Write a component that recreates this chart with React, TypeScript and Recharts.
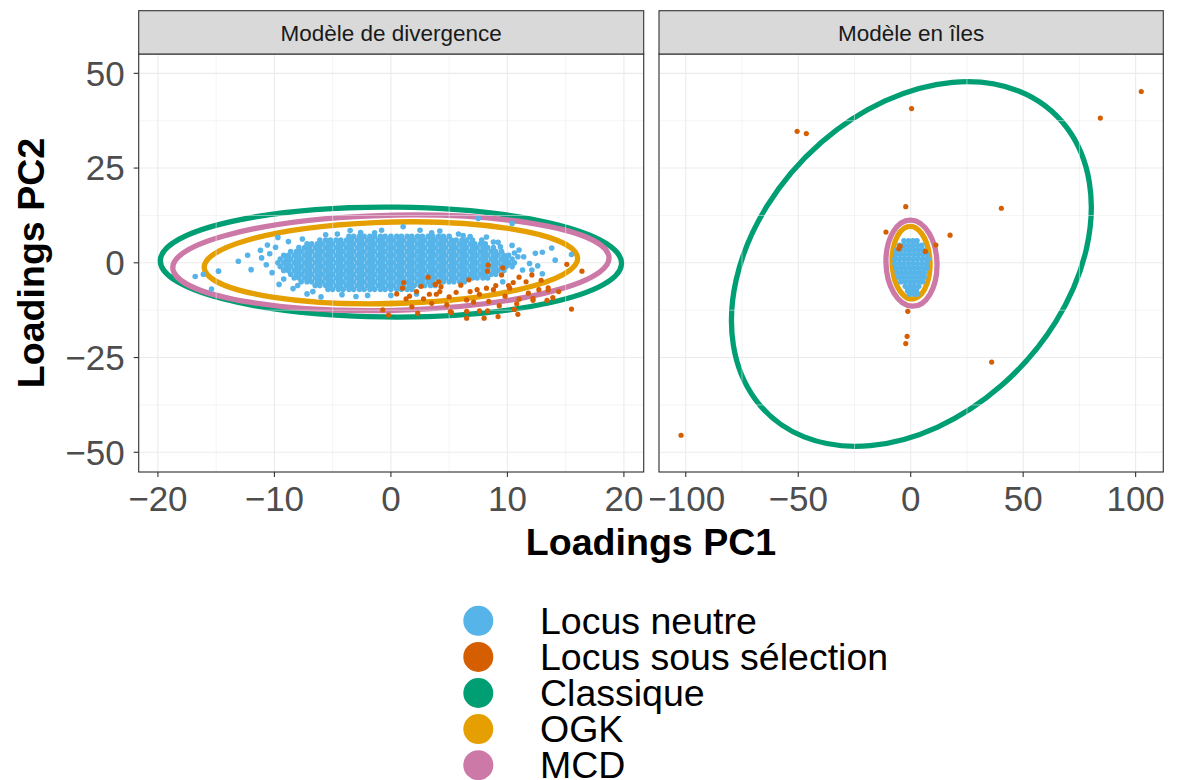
import React from "react";
import {
  ScatterChart,
  Scatter,
  XAxis,
  YAxis,
  CartesianGrid,
  ReferenceLine,
  ReferenceArea,
} from "recharts";

const FONT = '"Liberation Sans", Arial, Helvetica, sans-serif';

// facettes
const panelTitles = ["Modèle de divergence", "Modèle en îles"];

// axes
const yTicks = [-50, -25, 0, 25, 50];
const yMinor = [-37.5, -12.5, 12.5, 37.5];
const yDomain: [number, number] = [-55.2, 55.1];
const divTicks = [-20, -10, 0, 10, 20];
const divMinor = [-15, -5, 5, 15];
const divDomain: [number, number] = [-21.65, 21.7];
const ilesTicks = [-100, -50, 0, 50, 100];
const ilesMinor = [-75, -25, 25, 75];
const ilesDomain: [number, number] = [-111.9, 112.3];

const legendLabels = ["Locus neutre", "Locus sous sélection", "Classique", "OGK", "MCD"];
const COLORS: Record<string, string> = {
  "Locus neutre": "#56B4E9",
  "Locus sous sélection": "#D55E00",
  Classique: "#009E73",
  OGK: "#E69F00",
  MCD: "#CC79A7",
};

// Modèle de divergence : loci neutres, noyau dense (y, liste des x)
const neutreDivRows: [number, number[]][] = [
  [7, [-3.6, -3.2, -2.7, -2.3, -1.8, -1.4, -0.9, -0.5, 0, 0.5, 0.9, 1.4, 1.8, 2.3, 2.7, 3.2, 3.6, 4.1, 4.5, 5.0]],
  [6, [-6.1, -5.6, -5.2, -4.7, -4.3, -3.8, -3.4, -2.9, -2.5, -2.0, -1.6, -1.1, -0.7, -0.2, 0.2, 0.7, 1.1, 1.6, 2.0, 2.5, 2.9, 3.4, 3.8, 4.3, 4.7, 5.2, 5.6, 6.1, 6.5, 7.0]],
  [5, [-7.2, -6.8, -6.3, -5.9, -5.4, -5.0, -4.5, -4.1, -3.6, -3.2, -2.7, -2.3, -1.8, -1.4, -0.9, -0.5, 0, 0.5, 0.9, 1.4, 1.8, 2.3, 2.7, 3.2, 3.6, 4.1, 4.5, 5.0, 5.4, 5.9, 6.3, 6.8, 7.2, 7.7, 8.1]],
  [4, [-7.9, -7.4, -7.0, -6.5, -6.1, -5.6, -5.2, -4.7, -4.3, -3.8, -3.4, -2.9, -2.5, -2.0, -1.6, -1.1, -0.7, -0.2, 0.2, 0.7, 1.1, 1.6, 2.0, 2.5, 2.9, 3.4, 3.8, 4.3, 4.7, 5.2, 5.6, 6.1, 6.5, 7.0, 7.4, 7.9, 8.3, 8.8]],
  [3, [-8.6, -8.1, -7.7, -7.2, -6.8, -6.3, -5.9, -5.4, -5.0, -4.5, -4.1, -3.6, -3.2, -2.7, -2.3, -1.8, -1.4, -0.9, -0.5, 0, 0.5, 0.9, 1.4, 1.8, 2.3, 2.7, 3.2, 3.6, 4.1, 4.5, 5.0, 5.4, 5.9, 6.3, 6.8, 7.2, 7.7, 8.1, 8.6, 9.0, 9.5]],
  [2, [-9.2, -8.8, -8.3, -7.9, -7.4, -7.0, -6.5, -6.1, -5.6, -5.2, -4.7, -4.3, -3.8, -3.4, -2.9, -2.5, -2.0, -1.6, -1.1, -0.7, -0.2, 0.2, 0.7, 1.1, 1.6, 2.0, 2.5, 2.9, 3.4, 3.8, 4.3, 4.7, 5.2, 5.6, 6.1, 6.5, 7.0, 7.4, 7.9, 8.3, 8.8, 9.2, 9.7, 10.1]],
  [1, [-9.5, -9.0, -8.6, -8.1, -7.7, -7.2, -6.8, -6.3, -5.9, -5.4, -5.0, -4.5, -4.1, -3.6, -3.2, -2.7, -2.3, -1.8, -1.4, -0.9, -0.5, 0, 0.5, 0.9, 1.4, 1.8, 2.3, 2.7, 3.2, 3.6, 4.1, 4.5, 5.0, 5.4, 5.9, 6.3, 6.8, 7.2, 7.7, 8.1, 8.6, 9.0, 9.5, 9.9, 10.4]],
  [0, [-9.7, -9.2, -8.8, -8.3, -7.9, -7.4, -7.0, -6.5, -6.1, -5.6, -5.2, -4.7, -4.3, -3.8, -3.4, -2.9, -2.5, -2.0, -1.6, -1.1, -0.7, -0.2, 0.2, 0.7, 1.1, 1.6, 2.0, 2.5, 2.9, 3.4, 3.8, 4.3, 4.7, 5.2, 5.6, 6.1, 6.5, 7.0, 7.4, 7.9, 8.3, 8.8, 9.2, 9.7, 10.1, 10.6]],
  [-1, [-9.5, -9.0, -8.6, -8.1, -7.7, -7.2, -6.8, -6.3, -5.9, -5.4, -5.0, -4.5, -4.1, -3.6, -3.2, -2.7, -2.3, -1.8, -1.4, -0.9, -0.5, 0, 0.5, 0.9, 1.4, 1.8, 2.3, 2.7, 3.2, 3.6, 4.1, 4.5, 5.0, 5.4, 5.9, 6.3, 6.8, 7.2, 7.7, 8.1, 8.6, 9.0, 9.5, 9.9, 10.4]],
  [-2, [-9.2, -8.8, -8.3, -7.9, -7.4, -7.0, -6.5, -6.1, -5.6, -5.2, -4.7, -4.3, -3.8, -3.4, -2.9, -2.5, -2.0, -1.6, -1.1, -0.7, -0.2, 0.2, 0.7, 1.1, 1.6, 2.0, 2.5, 2.9, 3.4, 3.8, 4.3, 4.7, 5.2, 5.6, 6.1, 6.5, 7.0, 7.4, 7.9, 8.3, 8.8, 9.2, 9.7]],
  [-3, [-8.6, -8.1, -7.7, -7.2, -6.8, -6.3, -5.9, -5.4, -5.0, -4.5, -4.1, -3.6, -3.2, -2.7, -2.3, -1.8, -1.4, -0.9, -0.5, 0, 0.5, 0.9, 1.4, 1.8, 2.3, 2.7, 3.2, 3.6, 4.1, 4.5, 5.0, 5.4, 5.9, 6.3, 6.8, 7.2, 7.7, 8.1, 8.6, 9.0]],
  [-4, [-8.3, -7.9, -7.4, -7.0, -6.5, -6.1, -5.6, -5.2, -4.7, -4.3, -3.8, -3.4, -2.9, -2.5, -2.0, -1.6, -1.1, -0.7, -0.2, 0.2, 0.7, 1.1, 1.6, 2.0, 2.5, 2.9, 3.4, 3.8, 4.3, 4.7, 5.2, 5.6, 6.1, 6.5, 7.0, 7.4, 7.9, 8.3]],
  [-5, [-7.7, -7.2, -6.8, -6.3, -5.9, -5.4, -5.0, -4.5, -4.1, -3.6, -3.2, -2.7, -2.3, -1.8, -1.4, -0.9, -0.5, 0, 0.5, 0.9, 1.4, 1.8, 2.3, 2.7, 3.2, 3.6, 4.1, 4.5, 5.0, 5.4, 5.9, 6.3]],
  [-6, [-6.5, -6.1, -5.6, -5.2, -4.7, -4.3, -3.8, -3.4, -2.9, -2.5, -2.0, -1.6, -1.1, -0.7, -0.2, 0.2, 0.7, 1.1, 1.6, 2.0, 2.5, 2.9, 3.4, 3.8]],
  [-7, [-5.4, -5.0, -4.5, -4.1, -3.6, -3.2, -2.7, -2.3, -1.8, -1.4, -0.9, -0.5, 0, 0.5, 0.9, 1.4, 1.8]],
];

// Modèle de divergence : loci neutres épars
const neutreDivEpars: number[][] = [
  [-16.8, -3.6], [-16.1, -3.0], [-15.4, -6.9], [-14.8, -2.2], [-13.1, 0.4], [-11.2, 3.3],
  [-10.6, 4.7], [-11.1, 1.3], [-10.7, -0.5], [-9.7, 6.7], [-9.6, -5.7], [-8.4, -6.8],
  [-6.0, -9.0], [-3.5, 8.5], [-1.4, 7.9], [-10.2, -2.6], [-10.4, 2.4], [-9.2, -4.3],
  [-8.8, 5.6], [-7.6, 6.3], [-6.7, -7.6], [-5.6, 7.4], [-4.2, -8.4], [-2.0, -8.6],
  [1.05, 9.5], [2.5, 8.6], [4.2, 8.4], [5.8, 7.6], [6.8, 6.9], [7.8, 6.0], [8.2, 6.8],
  [8.8, 5.5], [9.4, 4.2], [9.2, 5.4], [10.4, 4.6], [11.0, 3.4], [10.9, 1.6], [11.4, 1.6],
  [12.4, 2.5], [11.9, -0.2], [12.1, -1.9], [10.4, -0.6], [13.0, 2.8], [13.8, 3.9],
  [12.6, -0.8], [11.3, -1.9], [13.0, -2.9], [9.6, -5.0], [10.4, 10.4], [7.5, 11.7],
  [15.5, 2.2], [14.1, 0.7], [-12.0, -1.8], [-12.3, 2.0], [-7.2, -8.2], [0.0, -8.6],
  [-0.8, 8.6], [-2.6, 8.0], [3.5, 7.9], [-3.0, -8.9], [-4.6, 7.6], [6.2, 7.2],
  [-8.0, -6.0], [2.2, -8.2], [10.6, 2.6], [-9.9, 4.1],
];

// Modèle de divergence : loci sous sélection
const selectionDiv: number[][] = [
  [8.35, -0.6], [8.3, -2.2], [9.6, -1.3], [9.5, -3.2], [12.1, -3.2], [15.1, -0.4], [16.4, -2.2],
  [15.5, -12.2], [11.0, -3.8], [11.6, -5.0], [12.9, -4.6], [13.5, -6.6], [12.7, -7.1],
  [13.9, -9.2], [13.4, -9.9], [12.2, -9.9], [10.6, -12.3], [10.9, -13.6], [9.2, -14.2],
  [8.3, -12.7], [6.5, -12.8], [5.2, -13.1], [3.2, -3.8], [4.1, -5.0], [4.3, -6.3], [3.8, -5.7],
  [3.9, -8.3], [4.2, -7.6], [3.3, -8.3], [2.8, -9.5], [2.2, -7.6], [1.3, -9.5], [1.0, -6.7],
  [1.1, -5.2], [5.6, -7.8], [6.0, -5.9], [6.8, -7.6], [7.4, -7.1], [7.6, -8.3], [8.2, -6.7],
  [8.8, -7.1], [9.0, -6.0], [10.1, -6.0], [10.2, -6.7], [10.5, -5.2], [6.5, -9.8], [4.8, -11.1],
  [5.1, -12.9], [2.3, -13.3], [8.4, -10.2], [12.2, -9.4], [11.8, -8.0], [7.6, -12.7],
  [6.5, -14.6], [9.3, -11.3], [-0.7, -12.4], [-0.2, -13.8], [3.5, -10.7], [5.0, -9.0],
  [7.1, -10.4], [9.8, -8.8], [11.0, -9.6], [14.4, -7.6], [10.8, -10.8], [1.8, -11.6],
  [0.5, -8.2], [2.6, -6.2], [6.7, -4.5], [8.0, -14.6], [1.6, -8.8], [13.5, -7.2],
];

// Modèle en îles : loci neutres (y, liste des x)
const neutreIlesRows: [number, number[]][] = [
  [5.8, [-3.0, -1.0, 1.0, 2.8]],
  [4.6, [-5.0, -3.0, -1.0, 1.0, 3.0, 5.0]],
  [3.4, [-6.2, -4.2, -2.2, -0.2, 1.8, 3.8, 5.6]],
  [2.2, [-6.6, -4.6, -2.6, -0.6, 1.4, 3.4, 5.4, 7.2]],
  [1.0, [-7.0, -5.0, -3.0, -1.0, 1.0, 3.0, 5.0, 7.0, 7.8]],
  [-0.2, [-7.0, -5.0, -3.0, -1.0, 1.0, 3.0, 5.0, 7.0]],
  [-1.4, [-6.5, -4.5, -2.5, -0.5, 1.5, 3.5, 5.5, 7.2]],
  [-2.6, [-6.0, -4.0, -2.0, 0.0, 2.0, 4.0, 6.0]],
  [-3.8, [-5.3, -3.3, -1.3, 0.7, 2.7, 4.7, 6.0]],
  [-5.0, [-4.4, -2.4, -0.4, 1.6, 3.6, 5.2]],
  [-6.2, [-2.4, -0.4, 1.6, 3.6]],
  [-7.4, [-1.4, 0.6, 2.6]],
  [-8.2, [-0.5, 1.5, 3.0]],
];

// Modèle en îles : loci sous sélection
const selectionIles: number[][] = [
  [102.5, 45.2], [84.3, 38.2], [0.4, 40.7], [-50.5, 34.7], [-46.4, 34.1], [40.3, 14.4],
  [-2.2, 14.8], [17.5, 7.3], [-11.0, 8.1], [11.2, 4.7], [-5.3, 3.7], [-4.7, 4.4], [6.5, 3.0],
  [-1.3, -12.8], [-1.6, -19.4], [-2.2, -21.3], [36.0, -26.2], [-102.1, -45.5],
];

// ellipses : centre, demi-axes, angle (degrés, repère des données)
type Ell = { methode: string; cx: number; cy: number; a: number; b: number; angle: number };
const ellipsesDiv: Ell[] = [
  { methode: "Classique", cx: 0, cy: 0.2, a: 19.8, b: 14.5, angle: -2 },
  { methode: "MCD", cx: 0, cy: 0, a: 18.8, b: 12.5, angle: 7 },
  { methode: "OGK", cx: 0, cy: 0, a: 16.1, b: 10.7, angle: 7.4 },
];
const ellipsesIles: Ell[] = [
  { methode: "Classique", cx: 0.3, cy: -0.3, a: 82, b: 44.6, angle: 15.2 },
  { methode: "MCD", cx: 0.35, cy: -0.1, a: 11.6, b: 11.1, angle: 135 },
  { methode: "OGK", cx: 0.15, cy: 0.05, a: 9.6, b: 8.4, angle: 100 },
];

const toPoints = (pairs: number[][]) => pairs.map(([x, y]) => ({ x, y }));
const fromRows = (rows: [number, number[]][]) =>
  rows.flatMap(([y, xs]) => xs.map((x) => ({ x, y })));

const tickFmt = (v: number) => (v < 0 ? `\u2212${Math.abs(v)}` : `${v}`);

const dot = (color: string, r: number) => (p: any) =>
  p.cx == null ? <g /> : <circle cx={p.cx} cy={p.cy} r={r} fill={color} />;

// the reference area is a square of side 2a around the centre: its pixel size gives the scale
const ellipseShape = (e: Ell) => (p: any) => {
  const kx = p.width / (2 * e.a);
  const ky = p.height / (2 * e.a);
  return (
    <ellipse
      cx={0}
      cy={0}
      rx={e.a}
      ry={e.b}
      fill="none"
      stroke={COLORS[e.methode]}
      strokeWidth={5.3}
      vectorEffect="non-scaling-stroke"
      transform={`translate(${p.x + p.width / 2} ${p.y + p.height / 2}) scale(${kx} ${-ky}) rotate(${e.angle})`}
    />
  );
};

const tickStyle = { fill: "#4D4D4D", fontSize: 35, fontFamily: FONT };

function Panel(props: {
  neutre: { x: number; y: number }[];
  selection: { x: number; y: number }[];
  ellipses: Ell[];
  xDomain: [number, number];
  xTicks: number[];
  xMinor: number[];
  showY: boolean;
  width: number;
  margin: { top: number; right: number; bottom: number; left: number };
}) {
  const { neutre, selection, ellipses, xDomain, xTicks, xMinor, showY, width, margin } = props;
  return (
    <ScatterChart width={width} height={560} margin={margin}>
      <CartesianGrid stroke="#EBEBEB" strokeWidth={1.1} />
      {xMinor.map((v) => (
        <ReferenceLine key={"x" + v} x={v} stroke="#EBEBEB" strokeWidth={0.55} />
      ))}
      {yMinor.map((v) => (
        <ReferenceLine key={"y" + v} y={v} stroke="#EBEBEB" strokeWidth={0.55} />
      ))}
      <XAxis
        type="number"
        dataKey="x"
        domain={xDomain}
        ticks={xTicks}
        interval={0}
        allowDataOverflow
        axisLine={false}
        tickSize={5}
        tickMargin={9}
        tickLine={{ stroke: "#333333", strokeWidth: 1.1 }}
        tick={tickStyle}
        tickFormatter={tickFmt}
        height={50}
      />
      <YAxis
        type="number"
        dataKey="y"
        domain={yDomain}
        ticks={yTicks}
        interval={0}
        allowDataOverflow
        axisLine={false}
        tickSize={5}
        tickMargin={9}
        tickLine={{ stroke: "#333333", strokeWidth: 1.1 }}
        tick={tickStyle}
        tickFormatter={tickFmt}
        width={80}
        hide={!showY}
      />
      {ellipses.map((e) => (
        <ReferenceArea
          key={e.methode}
          x1={e.cx - e.a}
          x2={e.cx + e.a}
          y1={e.cy - e.a}
          y2={e.cy + e.a}
          ifOverflow="visible"
          shape={ellipseShape(e)}
        />
      ))}
      <Scatter data={neutre} shape={dot(COLORS["Locus neutre"], 2.8)} isAnimationActive={false} />
      <Scatter
        data={selection}
        shape={dot(COLORS["Locus sous sélection"], 2.6)}
        isAnimationActive={false}
      />
    </ScatterChart>
  );
}

export default function App() {
  const neutreDiv = [...fromRows(neutreDivRows), ...toPoints(neutreDivEpars)];
  const neutreIles = fromRows(neutreIlesRows);
  const panelsBox = [
    { x: 138.7, w: 505 },
    { x: 659, w: 504.3 },
  ];
  return (
    <div
      style={{
        position: "absolute",
        left: 0,
        top: 0,
        width: 1179,
        height: 780,
        background: "#FFFFFF",
        overflow: "hidden",
        fontFamily: FONT,
      }}
    >
      <div style={{ position: "absolute", left: 0, top: 0 }}>
        <Panel
          neutre={neutreDiv}
          selection={toPoints(selectionDiv)}
          ellipses={ellipsesDiv}
          xDomain={divDomain}
          xTicks={divTicks}
          xMinor={divMinor}
          showY
          width={660}
          margin={{ top: 54, right: 16.3, bottom: 38, left: 58.7 }}
        />
      </div>
      <div style={{ position: "absolute", left: 650, top: 0 }}>
        <Panel
          neutre={neutreIles}
          selection={toPoints(selectionIles)}
          ellipses={ellipsesIles}
          xDomain={ilesDomain}
          xTicks={ilesTicks}
          xMinor={ilesMinor}
          showY={false}
          width={529}
          margin={{ top: 54, right: 15.7, bottom: 38, left: 9 }}
        />
      </div>
      <svg
        width={1179}
        height={780}
        style={{ position: "absolute", left: 0, top: 0, pointerEvents: "none" }}
      >
        {panelsBox.map((p, i) => (
          <g key={i}>
            <rect x={p.x} y={54} width={p.w} height={418} fill="none" stroke="#333333" strokeWidth={1.1} />
            <rect x={p.x} y={10.7} width={p.w} height={43.3} fill="#D9D9D9" stroke="#333333" strokeWidth={1.1} />
            <text
              x={p.x + p.w / 2}
              y={40.5}
              textAnchor="middle"
              fontSize={22.5}
              fill="#1A1A1A"
              fontFamily={FONT}
            >
              {panelTitles[i]}
            </text>
          </g>
        ))}
        <text
          transform="translate(44 263) rotate(-90)"
          textAnchor="middle"
          fontSize={37.6}
          fontWeight="bold"
          fill="#000000"
          fontFamily={FONT}
        >
          Loadings PC2
        </text>
        <text
          x={651}
          y={554.5}
          textAnchor="middle"
          fontSize={37.6}
          fontWeight="bold"
          fill="#000000"
          fontFamily={FONT}
        >
          Loadings PC1
        </text>
        {legendLabels.map((lab, i) => (
          <g key={lab}>
            <circle cx={478.3} cy={620.8 + i * 36.1} r={15} fill={COLORS[lab]} />
            <text x={540} y={633.8 + i * 36.1} fontSize={37.5} fill="#000000" fontFamily={FONT}>
              {lab}
            </text>
          </g>
        ))}
      </svg>
    </div>
  );
}
